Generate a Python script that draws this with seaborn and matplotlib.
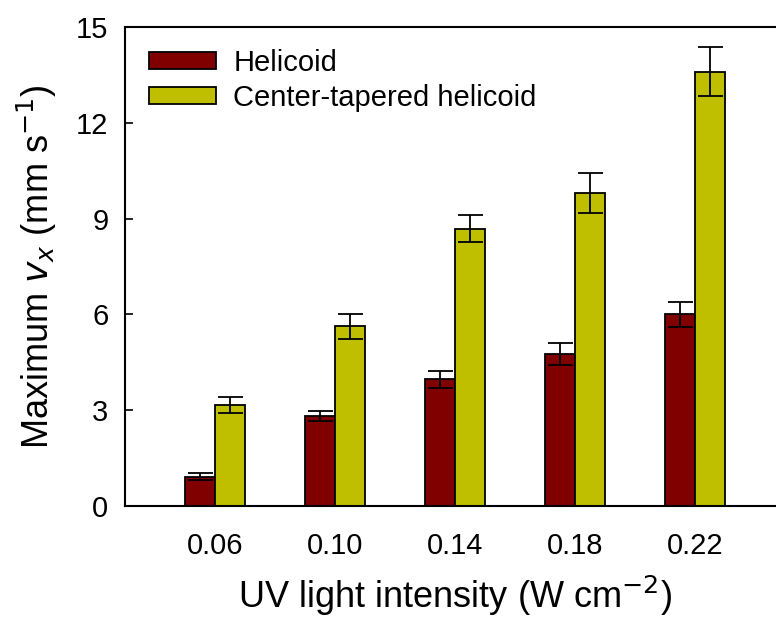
import matplotlib
matplotlib.use("Agg")
import matplotlib.pyplot as plt
import seaborn as sns
import pandas as pd
import numpy as np

intensities = ["0.06", "0.10", "0.14", "0.18", "0.22"]
helicoid = [0.92, 2.82, 3.97, 4.77, 6.0]
helicoid_err = [0.1, 0.17, 0.27, 0.35, 0.4]
tapered = [3.16, 5.63, 8.69, 9.81, 13.6]
tapered_err = [0.24, 0.4, 0.43, 0.62, 0.77]
series = ["Helicoid", "Center-tapered helicoid"]
colors = ["#800000", "#BFBF00"]

sns.set_theme(style="white")
plt.rcParams["font.family"] = ["Liberation Sans", "DejaVu Sans"]
plt.rcParams["text.color"] = "black"
plt.rcParams["axes.labelcolor"] = "black"
plt.rcParams["xtick.color"] = "black"
plt.rcParams["ytick.color"] = "black"

df = pd.DataFrame({
    "intensity": intensities * 2,
    "value": helicoid + tapered,
    "err": helicoid_err + tapered_err,
    "series": [series[0]] * 5 + [series[1]] * 5,
})

fig = plt.figure(figsize=(7.76, 6.19), dpi=100)
ax = fig.add_axes([0.161, 0.1826, 0.8505, 0.956 - 0.1826])

sns.barplot(data=df, x="intensity", y="value", hue="series", order=intensities,
            hue_order=series, palette=colors, width=0.5, gap=0, errorbar=None,
            edgecolor="black", linewidth=1.3, saturation=1, ax=ax)

# error bars placed at bar centres from seaborn's patches
for container, s in zip(ax.containers, series):
    sub = df[df["series"] == s].set_index("intensity").loc[intensities]
    xs = [p.get_x() + p.get_width() / 2 for p in container.patches]
    ax.errorbar(xs, sub["value"], yerr=sub["err"], fmt="none", ecolor="black",
                elinewidth=1.3, capsize=9, capthick=1.3, zorder=5)

ax.set_ylim(0, 15)
ax.set_xlim(-0.75, 4.75)
ax.set_yticks([0, 3, 6, 9, 12, 15])
ax.tick_params(axis="y", direction="in", length=6, width=1.2, left=True,
               labelsize=21, pad=12, colors="black")
ax.tick_params(axis="x", bottom=False, labelsize=21, pad=13, colors="black")
for sp in ax.spines.values():
    sp.set_color("black")
    sp.set_linewidth(1.5)

ax.set_xlabel("UV light intensity (W cm$^{\u22122}$)", fontsize=26, labelpad=10,
              color="black")
ax.set_ylabel("Maximum $v_x$ (mm s$^{\u22121}$)", fontsize=26, labelpad=12,
              color="black")

leg = ax.legend(loc="upper left", frameon=False, fontsize=21,
                handlelength=2.3, handleheight=0.5, handletextpad=0.6,
                labelspacing=0.25, borderaxespad=0.3, bbox_to_anchor=(0.005, 0.998))
for t in leg.get_texts():
    t.set_color("black")

fig.savefig("out.png", dpi=100)
